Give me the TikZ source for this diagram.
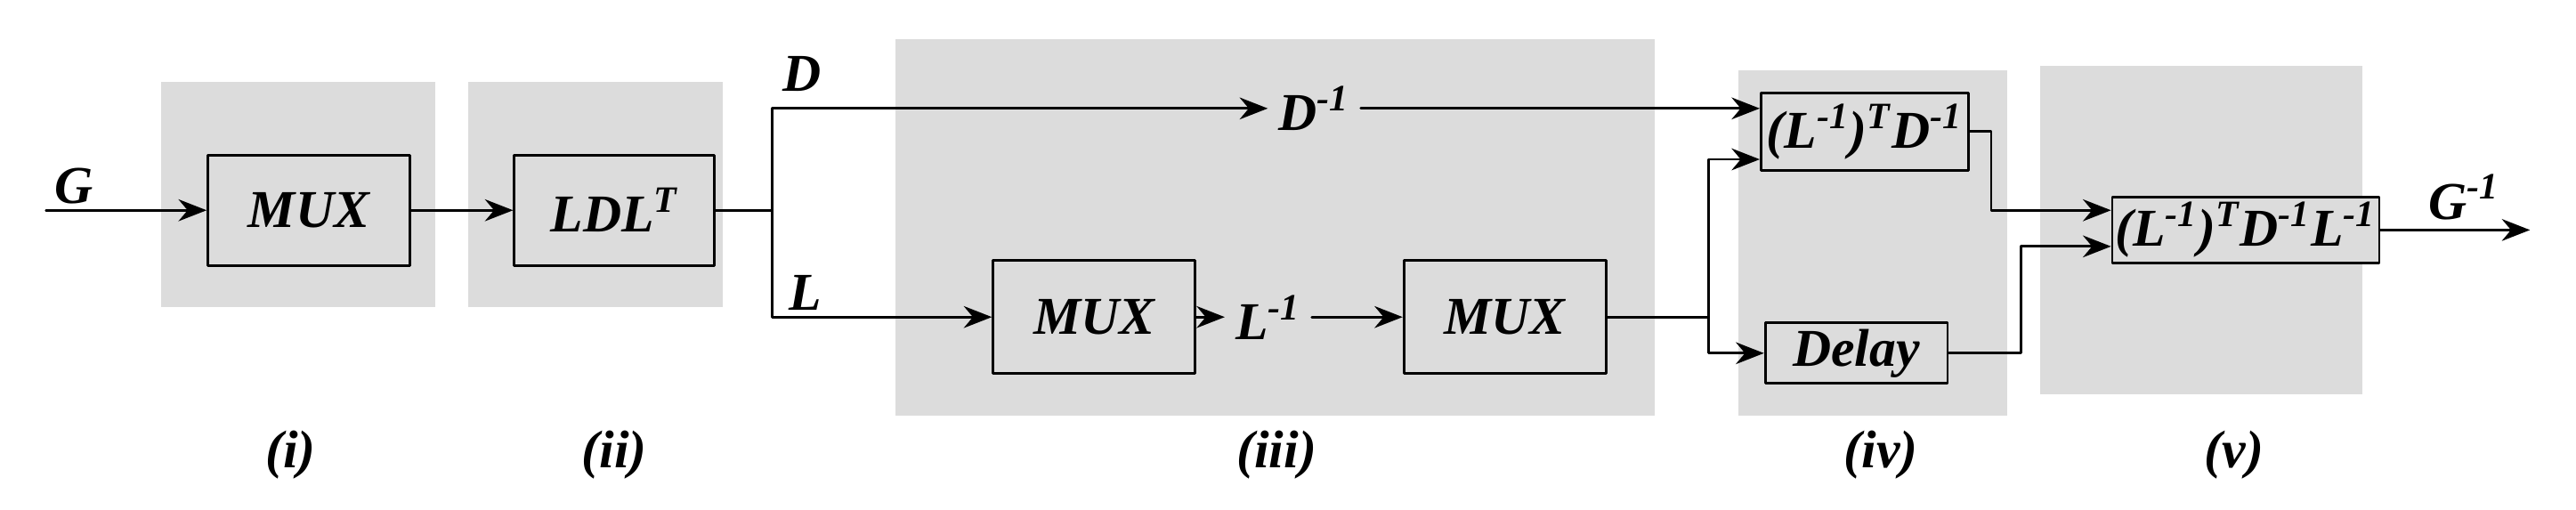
\documentclass[tikz,border=0pt]{standalone}
\usepackage{fontspec}
\setmainfont{Liberation Serif}
\usepackage{tikz}
\usetikzlibrary{arrows.meta}
\definecolor{stage}{HTML}{DCDCDC}
\newcommand{\sps}[1]{\textsuperscript{#1}}
\tikzset{
  blk/.style={draw, thick, fill=stage, inner sep=1pt, font=\fontsize{17}{19}\selectfont\bfseries\itshape},
  lbl/.style={font=\fontsize{17}{19}\selectfont\bfseries\itshape},
  arr/.style={-{Stealth[length=9pt,width=7pt]}, thick}
}
\begin{document}
\begin{tikzpicture}[x=0.01846cm, y=-0.01846cm, line cap=round, line join=round]
    \useasboundingbox (0,0) rectangle (1568,310);
    % Stage backgrounds
    \fill[stage] (98,50) rectangle (265,187);
    \fill[stage] (285,50) rectangle (440,187);
    \fill[stage] (545,24) rectangle (1007,253);
    \fill[stage] (1058,43) rectangle (1222,253);
    \fill[stage] (1242,40) rectangle (1438,240);

    % Blocks
    \node[blk, minimum width=2.27cm, minimum height=1.24cm] (mux1) at (188,128) {MUX};
    \node[blk, minimum width=2.25cm, minimum height=1.24cm] (ldl) at (374,128) {LDL\sps{T}};
    \node[blk, minimum width=2.27cm, minimum height=1.27cm] (mux2) at (666,193) {MUX};
    \node[blk, minimum width=2.27cm, minimum height=1.27cm] (mux3) at (916,193) {MUX};
    \node[blk, minimum width=2.33cm, minimum height=0.87cm] (ltd) at (1135,80) {(L\sps{-1})\sps{T}D\sps{-1}};
    \node[blk, minimum width=2.05cm, minimum height=0.68cm] (dly) at (1130,215) {Delay};
    \node[blk, minimum width=2.71cm, minimum height=0.74cm] (fin) at (1367,140) {(L\sps{-1})\sps{T}D\sps{-1}L\sps{-1}};

    % Labels
    \node[lbl] (gin) at (45,113) {G};
    \node[lbl] (dl) at (488,45) {D};
    \node[lbl] (ll) at (490,178) {L};
    \node[lbl] (dinv) at (800,66) {D\sps{-1}};
    \node[lbl] (linv) at (772,193) {L\sps{-1}};
    \node[lbl] (gout) at (1500,120) {G\sps{-1}};
    \coordinate (src) at (28,128);
    \coordinate (dst) at (1540,140);
    \coordinate (spl) at (470,128);
    \coordinate (sp2) at (1040,193);

    % Connections
    \draw[arr] (src) -- (mux1);
    \draw[arr] (mux1) -- (ldl);
    \draw[thick] (ldl.east) -- (spl);
    \draw[arr] (spl) |- (dinv.west);
    \draw[arr] (spl) |- (mux2.west);
    \draw[arr] (dinv.east) -- (ltd.west |- dinv);
    \draw[arr] (mux2) -- (linv);
    \draw[arr] (linv) -- (mux3);
    \draw[thick] (mux3.east) -- (sp2);
    \draw[arr] (sp2) |- (ltd.west |- 0,97);
    \draw[arr] (sp2) |- (dly.west);
    \draw[arr] (ltd.east) -| (1212,128) -- (fin.west |- 0,128);
    \draw[arr] (dly.east) -| (1230,150) -- (fin.west |- 0,150);
    \draw[arr] (fin) -- (dst);

    % Stage names
    \foreach \x/\t in {177/i, 374/ii, 777/iii, 1145/iv, 1360/v}
      \node[lbl] at (\x,277) {(\t)};
\end{tikzpicture}
\end{document}
